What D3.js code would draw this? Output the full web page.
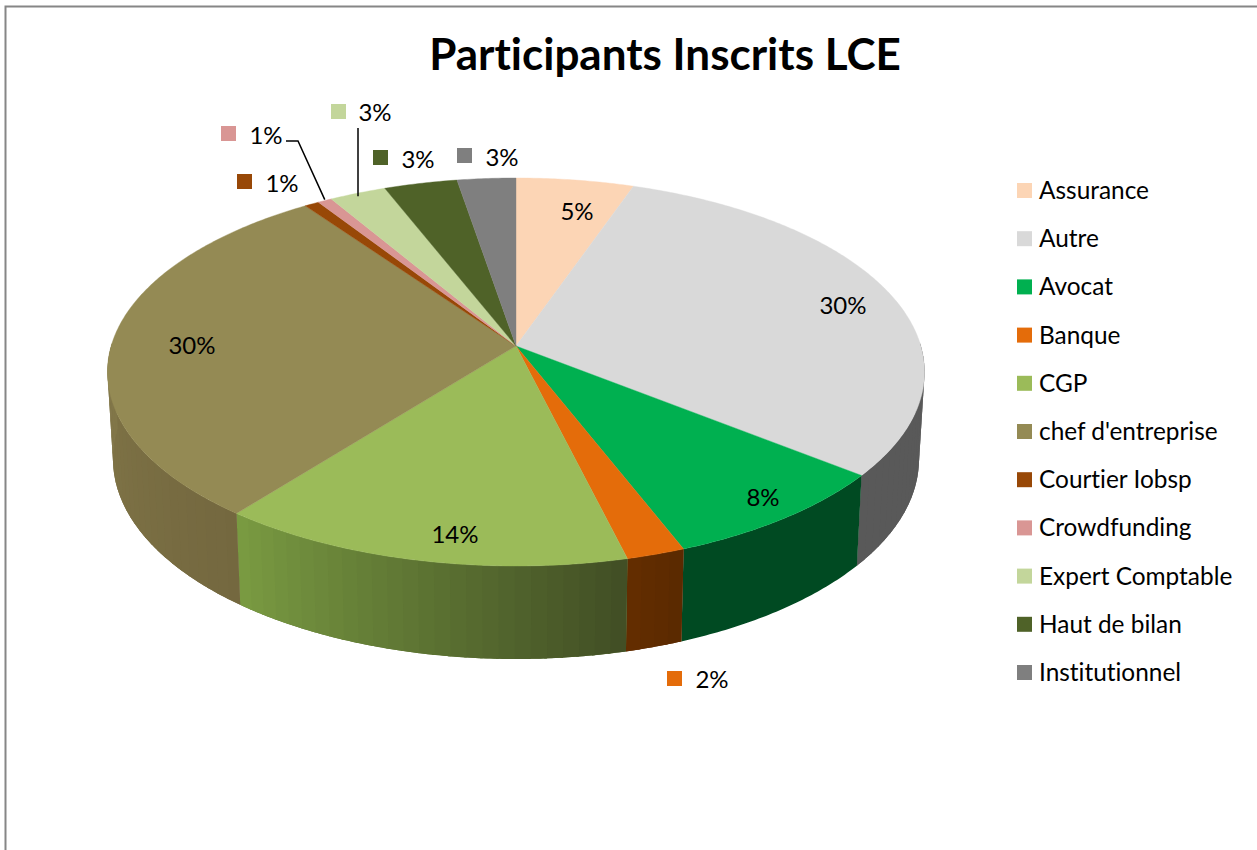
<!DOCTYPE html>
<html><head><meta charset="utf-8">
<script src="https://cdn.jsdelivr.net/npm/d3@7"></script>
<style>html,body{margin:0;padding:0;background:#fff;overflow:hidden}svg{display:block}text{font-family:Lato,Carlito,sans-serif;fill:#000;font-variant-ligatures:none}</style>
</head><body><svg id="c" width="1257" height="850"></svg>
<script>
const titleText = "Participants Inscrits LCE";
const categories = ["Assurance","Autre","Avocat","Banque","CGP","chef d'entreprise","Courtier Iobsp","Crowdfunding","Expert Comptable","Haut de bilan","Institutionnel"];
const values = [5.3,30.4,8.4,2.05,14.45,29.6,0.66,0.64,2.56,3.3,2.64];
const topColors = ["#fcd5b5","#d9d9d9","#00b050","#e46c0a","#9bbb59","#948a54","#984807","#d99694","#c3d69b","#4f6228","#7f7f7f"];
// side wall shading: colour at slice start angle, colour at slice end angle
const sideStart = ["#8a6f5a","#5a5a5a","#004a22","#5a2900","#414e24","#74683f","#4c2400","#6c4b4a","#62694d","#283114","#404040"];
const sideEnd   = ["#8a6f5a","#595959","#004a22","#642e00","#7a9b42","#8f8552","#4c2400","#6c4b4a","#62694d","#283114","#404040"];
// data-label layout: [key x, key y, text centre x, text y]; null key = label inside the slice
const labelLayout = [[null,null,577,210],[null,null,843,304],[null,null,763,496],[667,671,712,678],[null,null,455,533],[null,null,192,344],[237,174,282,182],[221,126,266,134],[331,104,375,111],[373,150,418,158],[457,148,502,156]];

const svg = d3.select("#c");
// chart frame
svg.append("path").attr("d","M5.5 850V6.5H1257").attr("fill","none").attr("stroke","#868686").attr("stroke-width",2);

const total = d3.sum(values);
const pct = d3.format(".0%");
const pie = d3.pie().sort(null).startAngle(0).endAngle(2*Math.PI);
const arcs = pie(values);

// perspective projection of the disc
const K = -0.134, S = Math.sqrt(1-K*K);
const ring = (cx,cy,rx,ry) => (a,r=1) => {
  const u=r*Math.sin(a), v=-r*Math.cos(a), w=1+K*v;
  return [cx+rx*u*S/w, cy+ry*(v+K)/w];
};
const topRing = ring(516,372,408.5,194);
const botRing = ring(516,459,403,200);
const line = d3.line();
const sample = (a0,a1,step) => { const n=Math.max(1,Math.ceil((a1-a0)/step)); return d3.range(n+1).map(i=>a0+(a1-a0)*i/n); };

// side wall
const side = svg.append("g");
arcs.forEach((d,i)=>{
  const a0=Math.max(d.startAngle,Math.PI/2-0.02), a1=Math.min(d.endAngle,3*Math.PI/2+0.02);
  if(a1<=a0) return;
  const col=d3.scaleLinear().domain([d.startAngle,d.endAngle]).range([sideStart[i],sideEnd[i]]).interpolate(d3.interpolateRgb);
  const fine=sample(a0,a1,0.01);
  // whole wall first, so the outline stays clean
  side.append("path")
    .attr("d",line([...fine.map(a=>topRing(a)),...fine.slice().reverse().map(a=>botRing(a))])+"Z")
    .attr("fill",col((a0+a1)/2));
  if(sideStart[i]===sideEnd[i]) return;
  const as=sample(a0,a1,0.035);
  d3.pairs(as).forEach(([p,q])=>{
    const arcPts=sample(p,Math.min(q+0.006,a1),0.01);
    side.append("path")
      .attr("d",line([...arcPts.map(a=>topRing(a)),...arcPts.slice().reverse().map(a=>botRing(a))])+"Z")
      .attr("fill",col((p+q)/2));
  });
});

// top face
svg.append("g").selectAll("path").data(arcs).join("path")
  .attr("d",d=>line([topRing(0,0),...sample(d.startAngle,d.endAngle,0.01).map(a=>topRing(a))])+"Z")
  .attr("fill",(d,i)=>topColors[i])
  .attr("stroke",(d,i)=>topColors[i]).attr("stroke-width",0.4);

// leader lines
const mid=d=>(d.startAngle+d.endAngle)/2;
const leaders=svg.append("g").attr("fill","none").attr("stroke","#000").attr("stroke-width",1.5);
{
  const e=topRing(mid(arcs[7])); e[1]-=1;
  leaders.append("path").attr("d",line([[286,141],[298,141],e]));
  const f=topRing(mid(arcs[8]));
  leaders.append("path").attr("d",line([[358,128],[358,f[1]+3]]));
}

// data labels
const lab=svg.append("g");
arcs.forEach((d,i)=>{
  const [kx,ky,tx,ty]=labelLayout[i];
  if(kx!==null) lab.append("rect").attr("x",kx).attr("y",ky).attr("width",15).attr("height",15).attr("fill",topColors[i]);
  lab.append("text").attr("x",tx).attr("y",ty).attr("text-anchor","middle").attr("dominant-baseline","central")
    .attr("font-size",24).text(pct(d.value/total));
});

// legend
const ly=d3.scalePoint().domain(categories).range([190.5,672.5]);
const leg=svg.append("g").selectAll("g").data(categories).join("g").attr("transform",d=>`translate(0,${ly(d)})`);
leg.append("rect").attr("x",1017).attr("y",-7.5).attr("width",15).attr("height",15).attr("fill",(d,i)=>topColors[i]);
leg.append("text").attr("x",1039).attr("y",-1).attr("dominant-baseline","central").attr("font-size",24.4).text(d=>d);

// title
svg.append("text").attr("x",665).attr("y",70).attr("text-anchor","middle").attr("font-size",44).attr("font-weight",700).text(titleText);
</script></body></html>
